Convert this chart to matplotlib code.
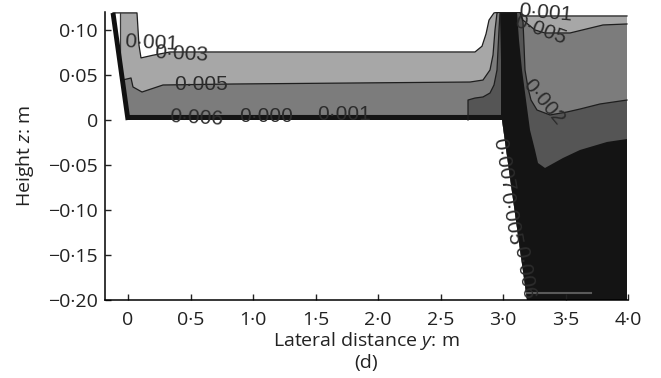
import matplotlib
matplotlib.use('Agg')
import matplotlib.pyplot as plt

plt.rcParams['font.family'] = ['Open Sans', 'DejaVu Sans']
plt.rcParams['mathtext.fontset'] = 'custom'
plt.rcParams['mathtext.it'] = 'Open Sans:italic'
plt.rcParams['mathtext.rm'] = 'Open Sans'

# ground / wall outline of the section (lateral distance y, height z), metres
wall_y = [-0.12, 0.0]
wall_z = [0.119, 0.0]
ground_y = [3.992, 3.192, 2.992, 0.0]
ground_z = [-0.2, -0.2, 0.0, 0.0]

# contour band upper edges (left to right)
band1_y = [-0.12, 0.072, 0.088, 0.104, 0.2, 0.336, 2.776, 2.832, 2.864, 2.888, 2.928,
           2.976, 3.136, 3.152, 3.992]
band1_z = [0.119, 0.119, 0.083, 0.069, 0.072, 0.0756, 0.0756, 0.082, 0.0956, 0.111, 0.119,
           0.12, 0.12, 0.1156, 0.1156]
band2_y = [-0.044, 0.024, 0.04, 0.112, 0.28, 0.84, 2.736, 2.84, 2.896, 2.92, 2.936, 2.952,
           2.976, 3.136, 3.16, 3.256, 3.336, 3.536, 3.8, 3.992]
band2_z = [0.0444, 0.0467, 0.0367, 0.0311, 0.0389, 0.04, 0.0422, 0.0444, 0.0556, 0.0722,
           0.1, 0.119, 0.12, 0.12, 0.111, 0.1, 0.0967, 0.0967, 0.1056, 0.1067]
band3_y = [2.72, 2.72, 2.776, 2.84, 2.896, 2.928, 2.952, 2.96, 2.968, 2.976, 3.136, 3.16,
           3.168, 3.176, 3.2, 3.224, 3.272, 3.376, 3.512, 3.616, 3.776, 3.992]
band3_z = [0.0, 0.0222, 0.0244, 0.0256, 0.03, 0.0389, 0.0556, 0.0778, 0.1, 0.119, 0.12,
           0.109, 0.0833, 0.0556, 0.0356, 0.0222, 0.0111, 0.0056, 0.0089, 0.0122, 0.0178,
           0.0222]
band4_y = [-0.005, 2.984, 2.984, 2.976, 3.112, 3.128, 3.152, 3.184, 3.216, 3.256, 3.28,
           3.336, 3.48, 3.616, 3.832, 3.992]
band4_z = [0.0056, 0.0056, 0.0667, 0.12, 0.12, 0.0889, 0.0556, 0.0222, -0.0111, -0.0333,
           -0.0478, -0.0533, -0.0422, -0.0333, -0.0244, -0.0211]
band_colours = ['#a7a7a7', '#7c7c7c', '#555555', '#141414']

# white gap between the wall and the light column at the top left
gap_y = [-0.12, -0.064, -0.064, -0.088]
gap_z = [0.119, 0.119, 0.07, 0.07]

# stray contour fragment near the bottom
frag_y = [3.19, 3.7]
frag_z = [-0.192, -0.192]

# contour labels: text, y, z, rotation
labels = ['0·001', '0·003', '0·005', '0·006', '0·000', '0·001',
          '0·001', '0·005', '0·002', '0·007', '0·005', '0·006']
label_y = [0.184, 0.424, 0.584, 0.544, 1.104, 1.728, 3.336, 3.296, 3.328, 3.0, 3.056, 3.168]
label_z = [0.0856, 0.0733, 0.04, 0.0022, 0.0044, 0.0056, 0.119, 0.1, 0.02, -0.05, -0.11, -0.169]
label_rot = [-3, -3, 0, -3, 0, 0, -5, -20, -50, -80, -80, -80]

yticks = [0, 0.5, 1.0, 1.5, 2.0, 2.5, 3.0, 3.5, 4.0]
ytick_labels = ['0', '0·5', '1·0', '1·5', '2·0', '2·5', '3·0', '3·5', '4·0']
zticks = [0.10, 0.05, 0, -0.05, -0.10, -0.15, -0.20]
ztick_labels = ['0·10', '0·05', '0', '−0·05', '−0·10', '−0·15', '−0·20']

fig = plt.figure(figsize=(6.61, 3.78), dpi=100)
ax = fig.add_axes([105 / 661, 1 - 300 / 378, 523 / 661, 288 / 378])

bands = [(band1_y, band1_z), (band2_y, band2_z), (band3_y, band3_z), (band4_y, band4_z)]
for (by, bz), col in zip(bands, band_colours):
    ax.fill(by + ground_y, bz + ground_z, color=col, lw=0, zorder=1)
for by, bz in bands[:3]:
    ax.plot(by, bz, color='#1e1e1e', lw=0.9, zorder=2)

# light column outline at the top left
ax.fill(gap_y, gap_z, color='white', lw=0, zorder=1.5)
ax.plot([-0.064, -0.064], [0.119, 0.05], color='#3a3a3a', lw=0.9, zorder=2)

ax.plot(frag_y, frag_z, color='#5a5a5a', lw=1.5, zorder=2)
ax.plot(wall_y, wall_z, color='#111111', lw=3.5, solid_capstyle='butt', zorder=3)

for t, ly, lz, r in zip(labels, label_y, label_z, label_rot):
    ax.text(ly, lz, t, rotation=r, ha='center', va='center', fontsize=15,
            family=['Liberation Sans', 'DejaVu Sans'], color='#2c2c2c', zorder=4,
            rotation_mode='anchor')

ax.set_xlim(-0.184, 4.0)
ax.set_ylim(-0.2, 0.12)
ax.set_xticks(yticks)
ax.set_xticklabels(ytick_labels)
ax.set_yticks(zticks)
ax.set_yticklabels(ztick_labels)
ax.tick_params(direction='in', length=4, width=1, labelsize=14, colors='#222222')
ax.tick_params(axis='x', pad=8)
ax.tick_params(axis='y', pad=5)
for s in ['top', 'right']:
    ax.spines[s].set_visible(False)
for s in ['left', 'bottom']:
    ax.spines[s].set_linewidth(1.1)

ax.set_xlabel('Lateral distance $y$: m\n(d)', fontsize=14, color='#222222', linespacing=1.15)
ax.xaxis.set_label_coords(0.5, -0.105)
ax.xaxis.label.set_va('top')
ax.set_ylabel('Height $z$: m', fontsize=14, color='#222222')
ax.yaxis.set_label_coords(-0.132, 0.5)

plt.savefig('out.png', dpi=100)
